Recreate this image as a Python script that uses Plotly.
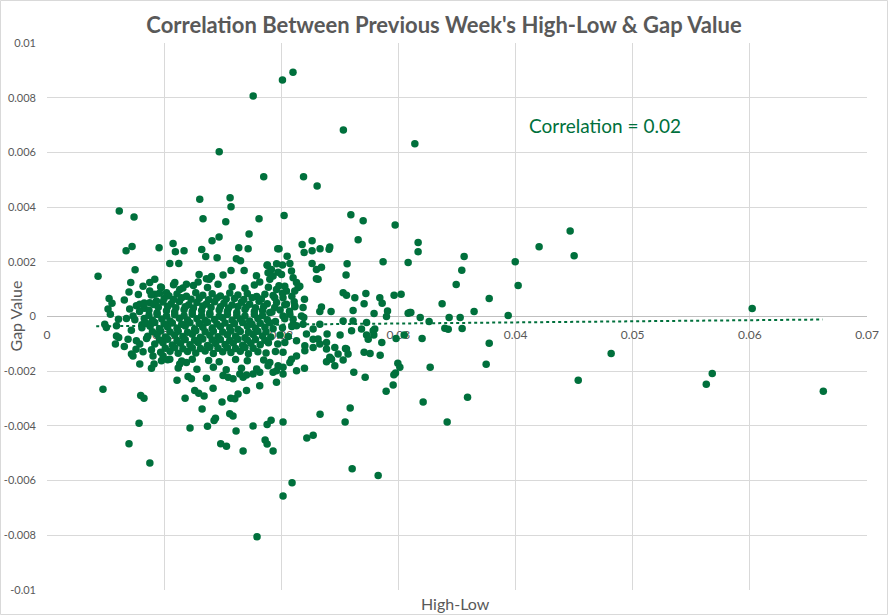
import plotly.graph_objects as go

GREEN = "#00703C"
GRAY_TXT = "#595959"
GRID = "#D9D9D9"

# ---- data (High-Low, Gap Value) ----
upper_points = [
    (0.0210, 0.00893), (0.0201, 0.00865), (0.0176, 0.00806), (0.0253, 0.00682), (0.0314, 0.00632),
    (0.0147, 0.00602), (0.0185, 0.00511), (0.0219, 0.00511), (0.02306, 0.00477),
    (0.00617, 0.00386), (0.00743, 0.00364), (0.01304, 0.00429), (0.01563, 0.00434), (0.01571, 0.00401),
    (0.01332, 0.00357), (0.01526, 0.00346), (0.0181, 0.00357), (0.01725, 0.00302), (0.01409, 0.00277),
    (0.01469, 0.00291), (0.01076, 0.00267), (0.00726, 0.00256), (0.00675, 0.0024), (0.00957, 0.00251),
    (0.01096, 0.00237), (0.0117, 0.0024), (0.01321, 0.00245), (0.01355, 0.00219), (0.01452, 0.00215),
    (0.01637, 0.00251), (0.01717, 0.00248), (0.01617, 0.00211), (0.01652, 0.00204), (0.0197, 0.00248),
    (0.01048, 0.00194), (0.01125, 0.00194), (0.00752, 0.00171), (0.00436, 0.00147), (0.00715, 0.00124),
    (0.01571, 0.00168), (0.01683, 0.00168), (0.01882, 0.00188), (0.0196, 0.00193),
    (0.0053, 0.00066), (0.00555, 0.00048), (0.00521, 0.00027), (0.00541, 0.00008), (0.0082, 0.00111),
    (0.0092, 0.00136), (0.0129, 0.00126), (0.01361, 0.00138), (0.01404, 0.00146), (0.01503, 0.00152),
    (0.01788, 0.00149),
    (0.02024, 0.00369), (0.02594, 0.00372), (0.02699, 0.0035), (0.02972, 0.00335), (0.02656, 0.00281),
    (0.03168, 0.00271), (0.03168, 0.00237), (0.02178, 0.00263), (0.02263, 0.00277), (0.02195, 0.00234),
    (0.02263, 0.0024), (0.02331, 0.00248), (0.02414, 0.00254), (0.02408, 0.00246), (0.01981, 0.00248),
    (0.0205, 0.0022), (0.02263, 0.00194), (0.02343, 0.0018), (0.023, 0.00172), (0.02314, 0.00136),
    (0.02562, 0.00193), (0.02553, 0.00152), (0.02869, 0.002), (0.03083, 0.00197), (0.03561, 0.00219),
    (0.03541, 0.00169), (0.03493, 0.00117), (0.03373, 0.00047), (0.02528, 0.00087), (0.02557, 0.00078),
    (0.02628, 0.00069), (0.02722, 0.00084), (0.02841, 0.00069), (0.02861, 0.00048), (0.02707, 0.00047),
    (0.02613, 0.00022), (0.02792, 0.00011), (0.02963, 0.00078), (0.03023, 0.00081), (0.02343, 0.00035),
    (0.02329, 0.00018), (0.02425, 0.00018), (0.02198, 0.00063), (0.02115, 0.00036), (0.03097, 0.00015),
    (0.01879, 0.00187), (0.0201, 0.00188), (0.02073, 0.00194), (0.01298, 0.00154), (0.01384, 0.00136),
    (0.01816, 0.00126), (0.01887, 0.0016), (0.01902, 0.00136), (0.01973, 0.00162), (0.02087, 0.00166),
    (0.02144, 0.00106), (0.023, 0.00138),
    (0.01916, 0.00172), (0.0193, 0.00148), (0.02002, 0.00154), (0.02101, 0.00142), (0.0213, 0.00124),
    (0.0203, 0.00111), (0.02158, 0.00111), (0.01959, 0.00099), (0.02044, 0.00093), (0.02115, 0.00093),
    (0.01944, 0.00069), (0.02015, 0.00069), (0.01944, 0.00033), (0.02044, 0.00045), (0.02115, 0.00039),
    (0.02186, 0.00033), (0.01902, 0.00015), (0.02073, 0.00008), (0.02172, 0.00002),
]

right_points = [
    (0.04466, 0.00313), (0.04201, 0.00255), (0.045, 0.00222), (0.03997, 0.002), (0.04022, 0.00113),
    (0.03775, 0.00066), (0.03646, 0.00018), (0.03937, 0.00004), (0.03433, -0.00004), (0.03527, -0.00004),
    (0.0602, 0.00029), (0.03396, -0.00043), (0.03425, -0.00047), (0.03544, -0.00044), (0.03775, -0.00098),
    (0.03749, -0.00175), (0.04816, -0.00135), (0.04535, -0.00233), (0.05679, -0.00208), (0.05628, -0.00248),
    (0.06627, -0.00273), (0.0359, -0.00295), (0.03416, -0.00386),
    (0.02907, 0.0002), (0.02898, 0.0), (0.03106, 0.00015), (0.03083, 0.00012), (0.03186, -0.00004),
    (0.03262, -0.00018),
]

mid_points = [
    (0.02528, -0.00016), (0.02613, -0.00016), (0.02728, -0.00022), (0.02798, -0.00046), (0.0279, -0.00068),
    (0.02685, -0.00046), (0.02728, -0.00068), (0.02742, -0.00083), (0.02858, -0.00095), (0.0298, -0.0008),
    (0.03049, -0.00068), (0.03202, -0.0008), (0.02707, -0.00131), (0.02758, -0.00135), (0.02844, -0.00142),
    (0.02548, -0.00117), (0.0257, -0.00137), (0.02528, -0.00159), (0.02391, -0.00064), (0.02386, -0.00095),
    (0.02457, -0.00113), (0.02414, -0.00149), (0.02457, -0.0018), (0.02386, -0.00165), (0.02502, -0.00068),
    (0.02198, -0.00189), (0.02619, -0.00204), (0.02716, -0.00222), (0.02995, -0.00171), (0.03012, -0.00186),
    (0.02975, -0.00207), (0.02961, -0.00213), (0.03271, -0.00186), (0.02955, -0.0025), (0.02895, -0.00273),
    (0.02101, -0.00028), (0.02186, -0.00028), (0.02329, -0.00028), (0.026, -0.00052), (0.02784, -0.00052),
    (0.02215, -0.00064), (0.02272, -0.00083), (0.02201, -0.00107), (0.02329, -0.00101), (0.02386, -0.00119),
    (0.02485, -0.00137), (0.02429, -0.00156), (0.02557, -0.00119),
    (0.0203, -0.00095), (0.0213, -0.00089), (0.02015, -0.00131), (0.02087, -0.00156), (0.02015, -0.00186),
    (0.01959, -0.00198), (0.01902, -0.00168), (0.0213, -0.00198),
    (0.02192, -0.00004), (0.02101, -0.0001), (0.02015, 0.00002), (0.0213, -0.00034), (0.02272, -0.00046),
    (0.02314, -0.00082), (0.02272, -0.00113), (0.02201, -0.00125), (0.0213, -0.00144), (0.02073, -0.00168),
    (0.01973, -0.0018), (0.02015, -0.0021), (0.01816, -0.00204), (0.01646, -0.0021),
]

lower_points = [
    (0.00478, -0.00266), (0.008, -0.00289), (0.00828, -0.00299), (0.00786, -0.0039), (0.007, -0.00465),
    (0.00878, -0.00536), (0.0111, -0.00233), (0.01179, -0.00299), (0.01261, -0.00271), (0.01295, -0.00281),
    (0.01341, -0.00291), (0.01418, -0.00262), (0.01324, -0.00338), (0.01438, -0.00372), (0.01426, -0.0038),
    (0.01221, -0.00408), (0.0137, -0.00401), (0.01494, -0.00313), (0.01569, -0.00299), (0.01603, -0.00301),
    (0.0156, -0.00356), (0.01588, -0.00364), (0.01703, -0.00271), (0.01631, -0.00283), (0.01816, -0.00253),
    (0.01759, -0.004), (0.01879, -0.00395), (0.01913, -0.00379), (0.01614, -0.00419), (0.01483, -0.00465),
    (0.01532, -0.00474), (0.01862, -0.00452), (0.01879, -0.00466), (0.01674, -0.00492), (0.0193, -0.00492),
    (0.01793, -0.00805), (0.02015, -0.00656), (0.02092, -0.00608), (0.02605, -0.00557), (0.02827, -0.00581),
    (0.02218, -0.00444), (0.02272, -0.00434), (0.02015, -0.00386), (0.02331, -0.00357), (0.02545, -0.00386),
    (0.02588, -0.00335), (0.01959, -0.0024), (0.03211, -0.00313),
    (0.01204, -0.00219), (0.01233, -0.00228), (0.01361, -0.00226), (0.01503, -0.00216), (0.01546, -0.00222),
    (0.01588, -0.00228), (0.01674, -0.00222), (0.01703, -0.00214), (0.01759, -0.0021), (0.01887, -0.0018),
    (0.0193, -0.00204), (0.00892, -0.00189), (0.00914, -0.00174), (0.00792, -0.00174), (0.00734, -0.00144),
    (0.00721, -0.00137), (0.0082, -0.00129), (0.00977, -0.00162), (0.00991, -0.00144), (0.01048, -0.00156),
    (0.01133, -0.00174), (0.0119, -0.00168), (0.00593, -0.00071), (0.00584, -0.00101), (0.00493, -0.00028),
    (0.00507, -0.0004), (0.00593, -0.00034), (0.00612, -0.00077), (0.00692, -0.00083), (0.00763, -0.00089),
    (0.00792, -0.00101), (0.00892, -0.00122), (0.00905, -0.00144),
    (0.00678, -0.00007), (0.00735, 0.00002), (0.00706, 0.00027), (0.00763, 0.00039), (0.00792, 0.00045),
    (0.00877, 0.00124), (0.00877, 0.00093), (0.0092, 0.00081), (0.00877, 0.0005), (0.00934, 0.00057),
    (0.00977, 0.00106), (0.0102, 0.00087), (0.01091, 0.00124), (0.01133, 0.00099), (0.0119, 0.00118),
    (0.0066, 0.0006), (0.0070, 0.0009), (0.0078, 0.0008), (0.0083, 0.0003), (0.0061, -0.0001),
    (0.0072, -0.0005), (0.0081, -0.0003), (0.0066, -0.0011), (0.0076, -0.0012), (0.0085, -0.0008),
]

core_points = [
    (0.0097, 0.00108), (0.0108, 0.00116), (0.0116, 0.00104), (0.0125, 0.00113), (0.0137, 0.00106),
    (0.0146, 0.00118), (0.0158, 0.00109), (0.0169, 0.00103), (0.0177, 0.00115), (0.0189, 0.00107),
    (0.0198, 0.00112),
    (0.0089, 0.00079), (0.0096, 0.00085), (0.0104, 0.00076), (0.0111, 0.00082), (0.0119, 0.00074),
    (0.0127, 0.00087), (0.0133, 0.00078), (0.0141, 0.00083), (0.0148, 0.00075), (0.0156, 0.00086),
    (0.0163, 0.00079), (0.0171, 0.00084), (0.0179, 0.00073), (0.0186, 0.00081), (0.0193, 0.00077),
    (0.0201, 0.00085), (0.0209, 0.00074),
    (0.0083, 0.00049), (0.0091, 0.00044), (0.0099, 0.00053), (0.0106, 0.00047), (0.0113, 0.00055),
    (0.0121, 0.00043), (0.0128, 0.00051), (0.0136, 0.00046), (0.0143, 0.00054), (0.0151, 0.00048),
    (0.0158, 0.00042), (0.0166, 0.00052), (0.0173, 0.00045), (0.0181, 0.00056), (0.0188, 0.00047),
    (0.0196, 0.00051), (0.0203, 0.00043), (0.0211, 0.00054),
    (0.0079, 0.00018), (0.0087, 0.00023), (0.0094, 0.00014), (0.0102, 0.00021), (0.0109, 0.00016),
    (0.0117, 0.00025), (0.0124, 0.00017), (0.0132, 0.00022), (0.0139, 0.00013), (0.0147, 0.00024),
    (0.0154, 0.00019), (0.0162, 0.00015), (0.0169, 0.00026), (0.0177, 0.00018), (0.0184, 0.00022),
    (0.0192, 0.00016), (0.0199, 0.00024), (0.0207, 0.00019),
    (0.0075, -0.00012), (0.0083, -0.00007), (0.0090, -0.00014), (0.0098, -0.00009), (0.0105, -0.00016),
    (0.0113, -0.00006), (0.0120, -0.00013), (0.0128, -0.00008), (0.0135, -0.00015), (0.0143, -0.00011),
    (0.0150, -0.00005), (0.0158, -0.00014), (0.0165, -0.00009), (0.0173, -0.00016), (0.0180, -0.00007),
    (0.0188, -0.00012), (0.0195, -0.00018), (0.0203, -0.00008),
    (0.0081, -0.00041), (0.0088, -0.00036), (0.0096, -0.00045), (0.0103, -0.00038), (0.0111, -0.00043),
    (0.0118, -0.00035), (0.0126, -0.00046), (0.0133, -0.00039), (0.0141, -0.00044), (0.0148, -0.00037),
    (0.0156, -0.00042), (0.0163, -0.00047), (0.0171, -0.00036), (0.0178, -0.00043), (0.0186, -0.00039),
    (0.0193, -0.00045), (0.0201, -0.00041), (0.0209, -0.00037),
    (0.0086, -0.00072), (0.0094, -0.00066), (0.0101, -0.00075), (0.0109, -0.00068), (0.0116, -0.00073),
    (0.0124, -0.00065), (0.0131, -0.00076), (0.0139, -0.00069), (0.0146, -0.00074), (0.0154, -0.00067),
    (0.0161, -0.00072), (0.0169, -0.00078), (0.0176, -0.00066), (0.0184, -0.00071), (0.0191, -0.00075),
    (0.0199, -0.00068), (0.0206, -0.00073),
    (0.0092, -0.00101), (0.0099, -0.00096), (0.0107, -0.00104), (0.0114, -0.00098), (0.0122, -0.00103),
    (0.0129, -0.00095), (0.0137, -0.00106), (0.0144, -0.00099), (0.0152, -0.00102), (0.0159, -0.00097),
    (0.0167, -0.00105), (0.0174, -0.00098), (0.0182, -0.00103), (0.0189, -0.00096), (0.0197, -0.00101),
    (0.0097, -0.00131), (0.0105, -0.00127), (0.0112, -0.00134), (0.0120, -0.00128), (0.0127, -0.00133),
    (0.0135, -0.00126), (0.0142, -0.00135), (0.0150, -0.00129), (0.0157, -0.00132), (0.0165, -0.00127),
    (0.0172, -0.00136), (0.0180, -0.00129), (0.0187, -0.00133), (0.0195, -0.00128),
    (0.0103, -0.00158), (0.0115, -0.00163), (0.0124, -0.00156), (0.0138, -0.00161), (0.0147, -0.00165),
    (0.0161, -0.00157), (0.0171, -0.00162), (0.0185, -0.00159),
    (0.0112, -0.00188), (0.0128, -0.00193), (0.0142, -0.00186), (0.0153, -0.00195), (0.0166, -0.00189),
    (0.0179, -0.00192),
]

core_fill_points = [
    (0.0100, 0.00066), (0.0108, 0.00062), (0.0115, 0.00069), (0.0123, 0.00063), (0.0130, 0.00067),
    (0.0138, 0.00061), (0.0145, 0.00068), (0.0153, 0.00064), (0.0160, 0.00066), (0.0168, 0.00062),
    (0.0175, 0.00069), (0.0183, 0.00064),
    (0.0095, 0.00034), (0.0103, 0.00037), (0.0110, 0.00032), (0.0118, 0.00036), (0.0125, 0.00031),
    (0.0133, 0.00038), (0.0140, 0.00033), (0.0148, 0.00036), (0.0155, 0.00031), (0.0163, 0.00037),
    (0.0170, 0.00034), (0.0178, 0.00032), (0.0185, 0.00037),
    (0.0087, 0.00004), (0.0094, 0.00007), (0.0102, 0.00002), (0.0109, 0.00006), (0.0117, 0.00003),
    (0.0124, 0.00008), (0.0132, 0.00004), (0.0139, 0.00006), (0.0147, 0.00001), (0.0154, 0.00007),
    (0.0162, 0.00004), (0.0169, 0.00002), (0.0177, 0.00007), (0.0184, 0.00004),
    (0.0085, -0.00026), (0.0092, -0.00022), (0.0100, -0.00027), (0.0107, -0.00024), (0.0115, -0.00028),
    (0.0122, -0.00023), (0.0130, -0.00026), (0.0137, -0.00021), (0.0145, -0.00027), (0.0152, -0.00024),
    (0.0160, -0.00026), (0.0167, -0.00022), (0.0175, -0.00028), (0.0182, -0.00025), (0.0190, -0.00023),
    (0.0090, -0.00056), (0.0097, -0.00053), (0.0105, -0.00057), (0.0112, -0.00054), (0.0120, -0.00058),
    (0.0127, -0.00052), (0.0135, -0.00056), (0.0142, -0.00054), (0.0150, -0.00057), (0.0157, -0.00053),
    (0.0165, -0.00055), (0.0172, -0.00058), (0.0180, -0.00054), (0.0187, -0.00056),
    (0.0096, -0.00086), (0.0103, -0.00083), (0.0111, -0.00088), (0.0118, -0.00084), (0.0126, -0.00087),
    (0.0133, -0.00082), (0.0141, -0.00086), (0.0148, -0.00084), (0.0156, -0.00088), (0.0163, -0.00083),
    (0.0171, -0.00086), (0.0178, -0.00084), (0.0186, -0.00087),
    (0.0101, -0.00116), (0.0109, -0.00113), (0.0116, -0.00118), (0.0124, -0.00114), (0.0131, -0.00117),
    (0.0139, -0.00112), (0.0146, -0.00116), (0.0154, -0.00114), (0.0161, -0.00117), (0.0169, -0.00113),
    (0.0176, -0.00116),
]

# linear trendline endpoints (as drawn)
trend_x = [0.0042, 0.0662]
trend_y = [-0.00036, -0.00011]

x_ticks = [0, 0.01, 0.02, 0.03, 0.04, 0.05, 0.06, 0.07]
x_tick_labels = ["0", "0.01", "0.02", "0.03", "0.04", "0.05", "0.06", "0.07"]
y_ticks = [0.01, 0.008, 0.006, 0.004, 0.002, 0, -0.002, -0.004, -0.006, -0.008, -0.01]
y_tick_labels = ["0.01", "0.008", "0.006", "0.004", "0.002", "0", "-0.002", "-0.004", "-0.006", "-0.008", "-0.01"]

title_text = "Correlation Between Previous Week's High-Low & Gap Value"
corr_text = "Correlation = 0.02"

all_points = upper_points + right_points + mid_points + lower_points + core_points + core_fill_points
xs = [p[0] for p in all_points]
ys = [p[1] for p in all_points]

W, H = 888, 615
ML, MR, MT, MB = 47, 21, 43, 25
PW, PH = W - ML - MR, H - MT - MB

fig = go.Figure()
fig.add_trace(go.Scatter(x=xs, y=ys, mode="markers",
                         marker=dict(size=7.5, color=GREEN, line=dict(width=0)),
                         showlegend=False, hoverinfo="x+y"))
fig.add_trace(go.Scatter(x=trend_x, y=trend_y, mode="lines",
                         line=dict(color=GREEN, width=2, dash="dot"),
                         showlegend=False, hoverinfo="skip"))

fig.update_layout(
    width=W, height=H,
    margin=dict(l=ML, r=MR, t=MT, b=MB, pad=0, autoexpand=False),
    paper_bgcolor="white", plot_bgcolor="white",
    font=dict(family="Lato, 'Open Sans', sans-serif", color=GRAY_TXT),
    title=dict(text=title_text, x=0.5, xref="container", xanchor="center",
               y=1 - 25 / H, yref="container", yanchor="middle",
               font=dict(family="Lato", size=22, color=GRAY_TXT, weight="bold")),
    xaxis=dict(range=[0, 0.07], tickmode="array", tickvals=x_ticks, ticktext=x_tick_labels,
               showgrid=True, gridcolor=GRID, gridwidth=1, zeroline=False,
               anchor="free", position=0.5, layer="below traces", automargin=False,
               ticks="", ticklabelstandoff=9, showline=False,
               tickfont=dict(family="Lato", size=12, color=GRAY_TXT)),
    yaxis=dict(range=[-0.01, 0.01], tickmode="array", tickvals=y_ticks, ticktext=y_tick_labels,
               showgrid=True, gridcolor=GRID, gridwidth=1, automargin=False,
               zeroline=True, zerolinecolor="#BFBFBF", zerolinewidth=1,
               ticks="", ticklabelstandoff=10, showline=False,
               tickfont=dict(family="Lato", size=11, color=GRAY_TXT)),
    annotations=[
        dict(text=corr_text, x=0.04097, y=0.0070, xref="x", yref="y",
             xanchor="left", yanchor="middle", showarrow=False,
             font=dict(family="Lato", size=19, color=GREEN)),
        dict(text="High-Low", x=(455 - ML) / PW, y=-(603 - (MT + PH)) / PH, xref="paper", yref="paper",
             xanchor="center", yanchor="middle", showarrow=False,
             font=dict(family="Lato", size=16, color=GRAY_TXT)),
        dict(text="Gap Value", x=(15 - ML) / PW, y=0.5, xref="paper", yref="paper",
             xanchor="center", yanchor="middle", textangle=-90, showarrow=False,
             font=dict(family="Lato", size=16, color=GRAY_TXT)),
    ],
    shapes=[
        dict(type="rect", xref="paper", yref="paper",
             x0=(0.5 - ML) / PW, x1=(W - 0.5 - ML) / PW,
             y0=-(H - 0.5 - MT - PH) / PH, y1=1 + (MT - 0.5) / PH,
             line=dict(color=GRID, width=1), fillcolor="rgba(0,0,0,0)", layer="below"),
    ],
)

fig.write_html("out.html", config={"displayModeBar": False},
               post_script="document.body.style.margin='0px';document.body.style.overflow='hidden';")
